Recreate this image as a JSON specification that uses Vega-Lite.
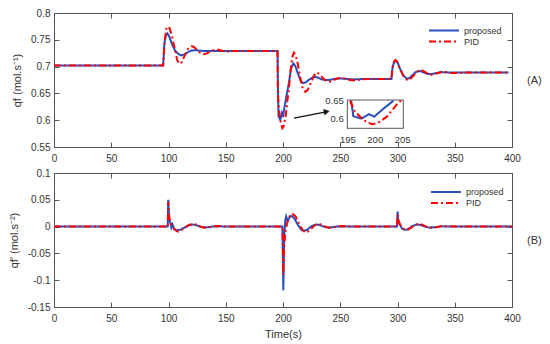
{
  "$schema": "https://vega.github.io/schema/vega-lite/v6.json",
  "padding": {"left": 7, "top": 7, "right": 3, "bottom": 2},
  "background": "white",
  "config": {
    "font": "Liberation Sans",
    "view": {"stroke": "#555555", "strokeWidth": 1},
    "axis": {
      "labelFont": "Liberation Sans", "titleFont": "Liberation Sans",
      "labelFontSize": 10, "titleFontSize": 11, "titleFontWeight": "normal",
      "labelColor": "#333333", "titleColor": "#333333",
      "domainColor": "#555555", "tickColor": "#555555",
      "tickSize": -5, "grid": false, "labelFlush": false
    },
    "legend": {
      "labelFont": "Liberation Sans", "labelFontSize": 9, "labelColor": "#333333",
      "symbolType": "stroke", "symbolSize": 900, "symbolStrokeWidth": 2,
      "clipHeight": 11, "padding": 0, "rowPadding": 0, "labelOffset": 4, "title": null
    },
    "line": {"strokeWidth": 2}
  },
  "datasets": {
    "top": [
      {"t":0,"v":0.702,"s":"proposed"},{"t":95.3,"v":0.702,"s":"proposed"},{"t":96.5,"v":0.745,"s":"proposed"},{"t":97.8,"v":0.758,"s":"proposed"},{"t":99,"v":0.762,"s":"proposed"},{"t":100.5,"v":0.757,"s":"proposed"},{"t":103,"v":0.742,"s":"proposed"},{"t":106,"v":0.729,"s":"proposed"},{"t":109,"v":0.723,"s":"proposed"},{"t":111.5,"v":0.721,"s":"proposed"},{"t":114,"v":0.723,"s":"proposed"},{"t":117,"v":0.727,"s":"proposed"},{"t":120,"v":0.730,"s":"proposed"},{"t":124,"v":0.7305,"s":"proposed"},{"t":128,"v":0.7295,"s":"proposed"},{"t":135,"v":0.729,"s":"proposed"},{"t":195.2,"v":0.729,"s":"proposed"},{"t":195.7,"v":0.650,"s":"proposed"},{"t":196.1,"v":0.607,"s":"proposed"},{"t":197.6,"v":0.601,"s":"proposed"},{"t":199,"v":0.613,"s":"proposed"},{"t":199.9,"v":0.606,"s":"proposed"},{"t":201.5,"v":0.627,"s":"proposed"},{"t":203.4,"v":0.650,"s":"proposed"},{"t":205,"v":0.668,"s":"proposed"},{"t":207,"v":0.696,"s":"proposed"},{"t":209,"v":0.706,"s":"proposed"},{"t":211,"v":0.700,"s":"proposed"},{"t":213,"v":0.687,"s":"proposed"},{"t":215.5,"v":0.673,"s":"proposed"},{"t":217.7,"v":0.669,"s":"proposed"},{"t":220,"v":0.671,"s":"proposed"},{"t":223,"v":0.676,"s":"proposed"},{"t":226,"v":0.680,"s":"proposed"},{"t":228,"v":0.681,"s":"proposed"},{"t":231,"v":0.679,"s":"proposed"},{"t":234,"v":0.676,"s":"proposed"},{"t":237,"v":0.675,"s":"proposed"},{"t":240,"v":0.675,"s":"proposed"},{"t":245,"v":0.677,"s":"proposed"},{"t":250,"v":0.678,"s":"proposed"},{"t":256,"v":0.677,"s":"proposed"},{"t":262,"v":0.676,"s":"proposed"},{"t":270,"v":0.677,"s":"proposed"},{"t":294.7,"v":0.677,"s":"proposed"},{"t":295.5,"v":0.695,"s":"proposed"},{"t":296.5,"v":0.705,"s":"proposed"},{"t":298.3,"v":0.711,"s":"proposed"},{"t":300,"v":0.708,"s":"proposed"},{"t":302,"v":0.697,"s":"proposed"},{"t":305,"v":0.684,"s":"proposed"},{"t":308,"v":0.678,"s":"proposed"},{"t":310,"v":0.678,"s":"proposed"},{"t":313,"v":0.684,"s":"proposed"},{"t":316,"v":0.690,"s":"proposed"},{"t":319.5,"v":0.692,"s":"proposed"},{"t":323,"v":0.689,"s":"proposed"},{"t":327,"v":0.686,"s":"proposed"},{"t":330,"v":0.686,"s":"proposed"},{"t":334,"v":0.688,"s":"proposed"},{"t":338,"v":0.690,"s":"proposed"},{"t":342,"v":0.689,"s":"proposed"},{"t":350,"v":0.689,"s":"proposed"},{"t":397,"v":0.689,"s":"proposed"},
      {"t":0,"v":0.702,"s":"PID"},{"t":95.3,"v":0.702,"s":"PID"},{"t":96.5,"v":0.745,"s":"PID"},{"t":98,"v":0.770,"s":"PID"},{"t":99.5,"v":0.775,"s":"PID"},{"t":101,"v":0.771,"s":"PID"},{"t":103,"v":0.757,"s":"PID"},{"t":105.5,"v":0.733,"s":"PID"},{"t":107.5,"v":0.713,"s":"PID"},{"t":109.5,"v":0.705,"s":"PID"},{"t":111.5,"v":0.708,"s":"PID"},{"t":114,"v":0.720,"s":"PID"},{"t":117,"v":0.733,"s":"PID"},{"t":120,"v":0.738,"s":"PID"},{"t":122,"v":0.737,"s":"PID"},{"t":125,"v":0.731,"s":"PID"},{"t":128,"v":0.725,"s":"PID"},{"t":131,"v":0.723,"s":"PID"},{"t":134,"v":0.725,"s":"PID"},{"t":138,"v":0.730,"s":"PID"},{"t":142,"v":0.732,"s":"PID"},{"t":146,"v":0.730,"s":"PID"},{"t":150,"v":0.728,"s":"PID"},{"t":155,"v":0.729,"s":"PID"},{"t":195.2,"v":0.729,"s":"PID"},{"t":195.5,"v":0.650,"s":"PID"},{"t":196.4,"v":0.620,"s":"PID"},{"t":197.9,"v":0.597,"s":"PID"},{"t":199.5,"v":0.585,"s":"PID"},{"t":200.5,"v":0.588,"s":"PID"},{"t":202.2,"v":0.606,"s":"PID"},{"t":204.3,"v":0.645,"s":"PID"},{"t":204.8,"v":0.650,"s":"PID"},{"t":206.5,"v":0.690,"s":"PID"},{"t":208,"v":0.717,"s":"PID"},{"t":209.5,"v":0.726,"s":"PID"},{"t":211,"v":0.722,"s":"PID"},{"t":213,"v":0.704,"s":"PID"},{"t":215,"v":0.680,"s":"PID"},{"t":217,"v":0.661,"s":"PID"},{"t":219.5,"v":0.653,"s":"PID"},{"t":221.5,"v":0.656,"s":"PID"},{"t":224,"v":0.668,"s":"PID"},{"t":227,"v":0.683,"s":"PID"},{"t":229.5,"v":0.689,"s":"PID"},{"t":232,"v":0.686,"s":"PID"},{"t":235,"v":0.678,"s":"PID"},{"t":238,"v":0.673,"s":"PID"},{"t":241,"v":0.672,"s":"PID"},{"t":244,"v":0.674,"s":"PID"},{"t":247,"v":0.678,"s":"PID"},{"t":251,"v":0.679,"s":"PID"},{"t":255,"v":0.677,"s":"PID"},{"t":259,"v":0.675,"s":"PID"},{"t":263,"v":0.674,"s":"PID"},{"t":268,"v":0.676,"s":"PID"},{"t":275,"v":0.677,"s":"PID"},{"t":294.7,"v":0.677,"s":"PID"},{"t":295.5,"v":0.698,"s":"PID"},{"t":296.8,"v":0.709,"s":"PID"},{"t":298,"v":0.712,"s":"PID"},{"t":299.5,"v":0.710,"s":"PID"},{"t":302,"v":0.697,"s":"PID"},{"t":305,"v":0.683,"s":"PID"},{"t":308,"v":0.676,"s":"PID"},{"t":310.5,"v":0.675,"s":"PID"},{"t":313,"v":0.681,"s":"PID"},{"t":317,"v":0.690,"s":"PID"},{"t":320.5,"v":0.694,"s":"PID"},{"t":324,"v":0.690,"s":"PID"},{"t":327,"v":0.686,"s":"PID"},{"t":330,"v":0.685,"s":"PID"},{"t":334,"v":0.687,"s":"PID"},{"t":339,"v":0.690,"s":"PID"},{"t":343,"v":0.690,"s":"PID"},{"t":347,"v":0.688,"s":"PID"},{"t":352,"v":0.688,"s":"PID"},{"t":360,"v":0.689,"s":"PID"},{"t":397,"v":0.689,"s":"PID"}
    ],
    "inset": [
      {"t":195.7,"v":0.650,"s":"proposed"},{"t":196.1,"v":0.607,"s":"proposed"},{"t":197.6,"v":0.601,"s":"proposed"},{"t":199,"v":0.613,"s":"proposed"},{"t":199.9,"v":0.606,"s":"proposed"},{"t":201.5,"v":0.627,"s":"proposed"},{"t":203.4,"v":0.650,"s":"proposed"},
      {"t":195.5,"v":0.650,"s":"PID"},{"t":196.4,"v":0.620,"s":"PID"},{"t":197.9,"v":0.597,"s":"PID"},{"t":199.5,"v":0.585,"s":"PID"},{"t":200.5,"v":0.588,"s":"PID"},{"t":202.2,"v":0.606,"s":"PID"},{"t":204.3,"v":0.645,"s":"PID"},{"t":204.8,"v":0.650,"s":"PID"}
    ],
    "arrow": [{"x1":209.6,"y1":0.604,"x2":236.5,"y2":0.6152,"hx":238.2,"hy":0.6159}],
    "bot": [
      {"t":0,"v":0,"s":"proposed"},{"t":99.3,"v":0,"s":"proposed"},{"t":99.8,"v":0.05,"s":"proposed"},{"t":100.5,"v":0.012,"s":"proposed"},{"t":101.5,"v":0.008,"s":"proposed"},{"t":102.5,"v":-0.002,"s":"proposed"},{"t":103.5,"v":0.004,"s":"proposed"},{"t":105,"v":-0.005,"s":"proposed"},{"t":107,"v":-0.007,"s":"proposed"},{"t":110,"v":-0.006,"s":"proposed"},{"t":114,"v":-0.002,"s":"proposed"},{"t":118,"v":0.003,"s":"proposed"},{"t":121,"v":0.004,"s":"proposed"},{"t":125,"v":0.002,"s":"proposed"},{"t":129,"v":-0.001,"s":"proposed"},{"t":133,"v":-0.0015,"s":"proposed"},{"t":138,"v":0,"s":"proposed"},{"t":145,"v":0.0005,"s":"proposed"},{"t":150,"v":0,"s":"proposed"},{"t":199.5,"v":0,"s":"proposed"},{"t":200.3,"v":-0.119,"s":"proposed"},{"t":201,"v":-0.02,"s":"proposed"},{"t":202,"v":0.012,"s":"proposed"},{"t":202.8,"v":0.019,"s":"proposed"},{"t":204,"v":0.01,"s":"proposed"},{"t":206,"v":0.018,"s":"proposed"},{"t":207.5,"v":0.02,"s":"proposed"},{"t":210,"v":0.015,"s":"proposed"},{"t":213,"v":0.003,"s":"proposed"},{"t":216,"v":-0.006,"s":"proposed"},{"t":218,"v":-0.008,"s":"proposed"},{"t":221,"v":-0.006,"s":"proposed"},{"t":225,"v":0.001,"s":"proposed"},{"t":229,"v":0.004,"s":"proposed"},{"t":232,"v":0.003,"s":"proposed"},{"t":236,"v":-0.0005,"s":"proposed"},{"t":240,"v":-0.002,"s":"proposed"},{"t":245,"v":-0.0005,"s":"proposed"},{"t":250,"v":0.0005,"s":"proposed"},{"t":255,"v":0,"s":"proposed"},{"t":299.6,"v":0,"s":"proposed"},{"t":300.1,"v":0.028,"s":"proposed"},{"t":300.8,"v":0.01,"s":"proposed"},{"t":302,"v":0.004,"s":"proposed"},{"t":304,"v":-0.004,"s":"proposed"},{"t":306.5,"v":-0.006,"s":"proposed"},{"t":309,"v":-0.005,"s":"proposed"},{"t":313,"v":0.001,"s":"proposed"},{"t":317,"v":0.004,"s":"proposed"},{"t":320,"v":0.003,"s":"proposed"},{"t":324,"v":0,"s":"proposed"},{"t":328,"v":-0.002,"s":"proposed"},{"t":333,"v":-0.001,"s":"proposed"},{"t":338,"v":0.0005,"s":"proposed"},{"t":345,"v":0,"s":"proposed"},{"t":400,"v":0,"s":"proposed"},
      {"t":0,"v":0,"s":"PID"},{"t":99.4,"v":0,"s":"PID"},{"t":99.9,"v":0.046,"s":"PID"},{"t":100.6,"v":0.02,"s":"PID"},{"t":101.5,"v":0.01,"s":"PID"},{"t":103,"v":0.002,"s":"PID"},{"t":105,"v":-0.004,"s":"PID"},{"t":107,"v":-0.008,"s":"PID"},{"t":108.6,"v":-0.0095,"s":"PID"},{"t":111,"v":-0.007,"s":"PID"},{"t":115,"v":-0.001,"s":"PID"},{"t":118,"v":0.003,"s":"PID"},{"t":121,"v":0.005,"s":"PID"},{"t":124,"v":0.004,"s":"PID"},{"t":128,"v":0,"s":"PID"},{"t":131,"v":-0.002,"s":"PID"},{"t":135,"v":-0.0015,"s":"PID"},{"t":140,"v":0.0005,"s":"PID"},{"t":145,"v":0.001,"s":"PID"},{"t":150,"v":0,"s":"PID"},{"t":199.5,"v":0,"s":"PID"},{"t":200.3,"v":-0.09,"s":"PID"},{"t":201,"v":-0.04,"s":"PID"},{"t":202,"v":-0.01,"s":"PID"},{"t":204,"v":0.01,"s":"PID"},{"t":206,"v":0.02,"s":"PID"},{"t":208.5,"v":0.0237,"s":"PID"},{"t":211,"v":0.019,"s":"PID"},{"t":214,"v":0.006,"s":"PID"},{"t":217,"v":-0.006,"s":"PID"},{"t":219.5,"v":-0.011,"s":"PID"},{"t":222,"v":-0.009,"s":"PID"},{"t":225,"v":-0.003,"s":"PID"},{"t":228,"v":0.003,"s":"PID"},{"t":230.5,"v":0.005,"s":"PID"},{"t":233,"v":0.004,"s":"PID"},{"t":237,"v":0,"s":"PID"},{"t":240,"v":-0.002,"s":"PID"},{"t":244,"v":-0.0015,"s":"PID"},{"t":249,"v":0.0005,"s":"PID"},{"t":253,"v":0.001,"s":"PID"},{"t":258,"v":0,"s":"PID"},{"t":299.6,"v":0,"s":"PID"},{"t":300.1,"v":0.022,"s":"PID"},{"t":300.8,"v":0.012,"s":"PID"},{"t":302,"v":0.005,"s":"PID"},{"t":304,"v":-0.002,"s":"PID"},{"t":306.5,"v":-0.006,"s":"PID"},{"t":309,"v":-0.006,"s":"PID"},{"t":312,"v":-0.002,"s":"PID"},{"t":315,"v":0.003,"s":"PID"},{"t":318,"v":0.005,"s":"PID"},{"t":321,"v":0.004,"s":"PID"},{"t":325,"v":0,"s":"PID"},{"t":329,"v":-0.002,"s":"PID"},{"t":333,"v":-0.0015,"s":"PID"},{"t":338,"v":0.0005,"s":"PID"},{"t":345,"v":0.001,"s":"PID"},{"t":350,"v":0,"s":"PID"},{"t":400,"v":0,"s":"PID"}
    ]
  },
  "spacing": 3,
  "resolve": {"scale": {"color": "independent", "strokeDash": "independent"}, "legend": {"color": "independent", "strokeDash": "independent"}},
  "vconcat": [
    {
      "width": 458, "height": 134,
      "resolve": {"scale": {"x": "independent", "y": "independent"}, "axis": {"x": "independent", "y": "independent"}},
      "layer": [
        {
          "resolve": {"axis": {"x": "independent", "y": "independent"}},
          "layer": [
            {
              "data": {"name": "top"},
              "mark": {"type": "line", "strokeWidth": 2},
              "encoding": {
                "x": {"field": "t", "type": "quantitative", "scale": {"domain": [0, 400], "nice": false},
                      "axis": {"orient": "bottom", "values": [0,50,100,150,200,250,300,350,400], "title": null, "labelPadding": 11}},
                "y": {"field": "v", "type": "quantitative", "scale": {"domain": [0.55, 0.8], "nice": false, "zero": false},
                      "axis": {"orient": "left", "values": [0.55,0.6,0.65,0.7,0.75,0.8], "labelExpr": "replace(format(datum.value, '.2~f'), '\u2212', '-')", "title": "qf (mol.s⁻¹)", "labelPadding": 9, "titlePadding": 8}},
                "color": {"field": "s", "type": "nominal", "scale": {"domain": ["proposed", "PID"], "range": ["#2a4fbd", "#ff0000"]},
                          "legend": {"orient": "none", "legendX": 374, "legendY": 12}},
                "strokeDash": {"field": "s", "type": "nominal", "scale": {"domain": ["proposed", "PID"], "range": [[1, 0], [7, 3, 2, 3]]},
                          "legend": {"orient": "none", "legendX": 374, "legendY": 12}}
              }
            },
            {
              "data": {"name": "top"},
              "mark": {"type": "point", "opacity": 0},
              "encoding": {
                "x": {"field": "t", "type": "quantitative", "scale": {"domain": [0, 400], "nice": false},
                      "axis": {"orient": "top", "values": [0,50,100,150,200,250,300,350,400], "labels": false, "title": null}},
                "y": {"field": "v", "type": "quantitative", "scale": {"domain": [0.55, 0.8], "nice": false, "zero": false},
                      "axis": {"orient": "right", "values": [0.55,0.6,0.65,0.7,0.75,0.8], "labels": false, "title": "(A)", "titleAngle": 0, "titleFontSize": 11, "titleAlign": "left", "titleBaseline": "middle", "titlePadding": 14}}
              }
            },
            {
              "data": {"name": "arrow"},
              "mark": {"type": "rule", "color": "#111111", "strokeWidth": 1.2},
              "encoding": {
                "x": {"field": "x1", "type": "quantitative", "scale": {"domain": [0, 400], "nice": false}, "axis": null},
                "y": {"field": "y1", "type": "quantitative", "scale": {"domain": [0.55, 0.8], "nice": false, "zero": false}, "axis": null},
                "x2": {"field": "x2"}, "y2": {"field": "y2"}
              }
            },
            {
              "data": {"name": "arrow"},
              "mark": {"type": "point", "shape": "triangle-right", "filled": true, "color": "#111111", "opacity": 1, "size": 45, "angle": 349},
              "encoding": {
                "x": {"field": "hx", "type": "quantitative", "scale": {"domain": [0, 400], "nice": false}, "axis": null},
                "y": {"field": "hy", "type": "quantitative", "scale": {"domain": [0.55, 0.8], "nice": false, "zero": false}, "axis": null}
              }
            }
          ]
        },
        {
          "layer": [
            {
              "data": {"values": [{}]},
              "mark": {"type": "rect", "fill": "white", "stroke": "#555555", "strokeWidth": 1},
              "encoding": {
                "x": {"datum": 195, "type": "quantitative", "scale": {"domain": [195, 205.2], "range": [293.3, 349.3], "nice": false, "zero": false},
                      "axis": {"orient": "bottom", "offset": -18.7, "values": [195, 200, 205], "title": null, "domain": false, "tickSize": -3, "labelPadding": 9, "labelFontSize": 9.5}},
                "x2": {"datum": 205.2},
                "y": {"datum": 0.574, "type": "quantitative", "scale": {"domain": [0.574, 0.652], "range": [115.3, 87], "nice": false, "zero": false},
                      "axis": {"orient": "left", "offset": -293.3, "values": [0.6, 0.65], "title": null, "domain": false, "tickSize": -3, "labelPadding": 7, "labelFontSize": 9.5, "labelExpr": "format(datum.value, '.2~f')"}},
                "y2": {"datum": 0.652}
              }
            },
            {
              "data": {"name": "inset"},
              "mark": {"type": "line", "strokeWidth": 2},
              "encoding": {
                "x": {"field": "t", "type": "quantitative", "scale": {"domain": [195, 205.2], "range": [293.3, 349.3], "nice": false, "zero": false},
                      "axis": {"orient": "bottom", "offset": -18.7, "values": [195, 200, 205], "title": null, "domain": false, "tickSize": -3, "labelPadding": 9, "labelFontSize": 9.5}},
                "y": {"field": "v", "type": "quantitative", "scale": {"domain": [0.574, 0.652], "range": [115.3, 87], "nice": false, "zero": false},
                      "axis": {"orient": "left", "offset": -293.3, "values": [0.6, 0.65], "title": null, "domain": false, "tickSize": -3, "labelPadding": 7, "labelFontSize": 9.5, "labelExpr": "format(datum.value, '.2~f')"}},
                "color": {"field": "s", "type": "nominal", "scale": {"domain": ["proposed", "PID"], "range": ["#2a4fbd", "#ff0000"]}, "legend": null},
                "strokeDash": {"field": "s", "type": "nominal", "scale": {"domain": ["proposed", "PID"], "range": [[1, 0], [7, 3, 2, 3]]}, "legend": null}
              }
            }
          ]
        }
      ]
    },
    {
      "width": 458, "height": 134,
      "resolve": {"axis": {"x": "independent", "y": "independent"}},
      "layer": [
        {
          "data": {"name": "bot"},
          "mark": {"type": "line", "strokeWidth": 2},
          "encoding": {
            "x": {"field": "t", "type": "quantitative", "scale": {"domain": [0, 400], "nice": false},
                  "axis": {"orient": "bottom", "values": [0,50,100,150,200,250,300,350,400], "title": "Time(s)", "labelPadding": 11, "titlePadding": 5}},
            "y": {"field": "v", "type": "quantitative", "scale": {"domain": [-0.15, 0.1], "nice": false, "zero": false},
                  "axis": {"orient": "left", "values": [-0.15,-0.1,-0.05,0,0.05,0.1], "labelExpr": "replace(format(datum.value, '.2~f'), '\u2212', '-')", "title": "qf′ (mol.s⁻²)", "labelPadding": 9, "titlePadding": 8}},
            "color": {"field": "s", "type": "nominal", "scale": {"domain": ["proposed", "PID"], "range": ["#2a4fbd", "#ff0000"]},
                      "legend": {"orient": "none", "legendX": 376, "legendY": 13.5}},
            "strokeDash": {"field": "s", "type": "nominal", "scale": {"domain": ["proposed", "PID"], "range": [[1, 0], [7, 3, 2, 3]]},
                      "legend": {"orient": "none", "legendX": 376, "legendY": 13.5}}
          }
        },
        {
          "data": {"name": "bot"},
          "mark": {"type": "point", "opacity": 0},
          "encoding": {
            "x": {"field": "t", "type": "quantitative", "scale": {"domain": [0, 400], "nice": false},
                  "axis": {"orient": "top", "values": [0,50,100,150,200,250,300,350,400], "labels": false, "title": null}},
            "y": {"field": "v", "type": "quantitative", "scale": {"domain": [-0.15, 0.1], "nice": false, "zero": false},
                  "axis": {"orient": "right", "values": [-0.15,-0.1,-0.05,0,0.05,0.1], "labels": false, "title": "(B)", "titleAngle": 0, "titleFontSize": 11, "titleAlign": "left", "titleBaseline": "middle", "titlePadding": 14}}
          }
        }
      ]
    }
  ]
}
